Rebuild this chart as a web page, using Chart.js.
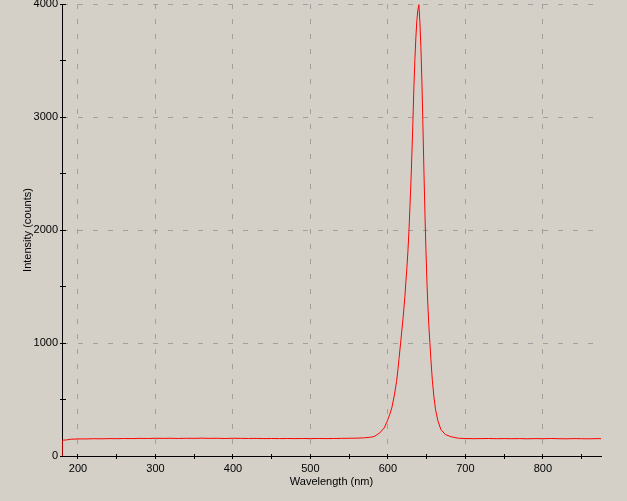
<!DOCTYPE html>
<html>
<head>
<meta charset="utf-8">
<script src="https://cdn.jsdelivr.net/npm/chart.js@4"></script>
<style>
  body { margin: 0; background: #d4d0c8; }
  canvas { display: block; }
</style>
</head>
<body>
<canvas id="spectrum" width="627" height="501"></canvas>
<script>
// wavelength (nm) and intensity (counts)
const wavelengths = [
  179.4, 179.6, 185, 190, 200, 210, 220, 230, 240, 250, 260, 270, 280, 290,
  300, 310, 320, 330, 340, 350, 360, 370, 380, 390, 400, 410, 420, 430, 440,
  450, 460, 470, 480, 490, 500, 510, 520, 530, 540, 550, 560, 570, 576,
  580.6, 583, 589.3, 595.2, 599.4, 602.2, 605, 608.4, 611.2, 612.9, 614.2,
  616.4, 618.1, 619.9, 621.9, 623.2, 624.5, 625.8, 627.1, 628.4,
  629.7, 631.0, 632.3, 633.5, 634.8, 636.1, 637.4, 638.7, 640.0, 641.3,
  642.6, 643.9, 645.2, 646.5, 647.8, 649.1, 650.4, 651.6, 652.8, 654.2,
  655.5, 657.3, 659.4, 661.5, 664.5, 668.3, 674, 681.8, 691, 700, 710, 720,
  730, 740, 750, 760, 770, 780, 790, 800, 810, 820, 830, 840, 850, 860, 870, 875
];
const counts = [
  0, 140, 142, 148, 151, 151, 153, 152, 154, 153, 155, 154, 156, 155,
  157, 156, 157, 155, 157, 156, 158, 156, 157, 155, 157, 156, 155, 156, 154,
  155, 154, 155, 154, 155, 154, 155, 154, 155, 156, 157, 158, 161, 165,
  170, 175, 204, 248, 312, 365, 425, 540, 660, 764, 852,
  1000, 1118, 1245, 1410, 1542, 1667, 1808, 1985, 2197,
  2427, 2680, 2967, 3259, 3508, 3706, 3861, 3950, 3994, 3835,
  3613, 3306, 2923, 2516, 2144, 1817, 1534, 1330, 1155, 1000,
  852, 675, 520, 410, 312, 235, 190, 170, 157, 155, 153, 154,
  155, 153, 154, 153, 154, 152, 154, 153, 155, 153, 152, 154, 153, 152, 154, 153
];
const points = wavelengths.map((w, i) => ({ x: w, y: counts[i] }));

Chart.defaults.font.family = "'Liberation Sans', Arial, sans-serif";
Chart.defaults.font.size = 11;
Chart.defaults.color = "#000";

const gridGray = "#a0a0a0";

// small ticks that cross the axis lines
const crossTicks = {
  id: "crossTicks",
  afterDraw(chart) {
    const { ctx, chartArea, scales } = chart;
    ctx.save();
    ctx.strokeStyle = "#000";
    ctx.lineWidth = 1;
    ctx.beginPath();
    scales.x.ticks.forEach((t) => {
      const px = Math.round(scales.x.getPixelForValue(t.value) - 0.5) + 0.5;
      ctx.moveTo(px, chartArea.bottom - 2);
      ctx.lineTo(px, chartArea.bottom + 3);
    });
    scales.y.ticks.forEach((t) => {
      const py = Math.round(scales.y.getPixelForValue(t.value) - 0.5) + 0.5;
      ctx.moveTo(chartArea.left - 2, py);
      ctx.lineTo(chartArea.left + 4, py);
    });
    ctx.stroke();
    ctx.restore();
  },
};

new Chart(document.getElementById("spectrum"), {
  type: "line",
  data: {
    datasets: [
      {
        data: points,
        borderColor: "#ff0000",
        borderWidth: 1,
        pointRadius: 0,
        tension: 0,
        fill: false,
      },
    ],
  },
  options: {
    responsive: false,
    animation: false,
    layout: { padding: { top: 4, right: 26, left: 0, bottom: 0 } },
    plugins: { legend: { display: false }, tooltip: { enabled: false } },
    scales: {
      x: {
        type: "linear",
        min: 179.4,
        max: 875,
        afterFit: (s) => { s.height = 45; s.paddingLeft = 0; s.paddingRight = 0; },
        ticks: {
          stepSize: 50,
          includeBounds: false,
          autoSkip: false,
          maxRotation: 0,
          padding: 6,
          callback: (v) => (v % 100 === 0 ? v : ""),
        },
        grid: {
          drawTicks: false,
          color: (c) => (c.tick && c.tick.value % 100 === 0 ? gridGray : "rgba(0,0,0,0)"),
        },
        border: { color: "#000", width: 1, dash: [5, 10] },
        title: {
          display: true,
          text: "Wavelength (nm)",
          padding: { top: 0, bottom: 12 },
        },
      },
      y: {
        min: 0,
        max: 4000,
        afterFit: (s) => { s.width = 62; s.paddingTop = 0; s.paddingBottom = 0; },
        ticks: {
          stepSize: 500,
          includeBounds: false,
          autoSkip: false,
          padding: 4,
          callback: (v) => (v % 1000 === 0 ? v : ""),
        },
        grid: {
          drawTicks: false,
          color: (c) => (c.tick && c.tick.value > 0 && c.tick.value % 1000 === 0 ? gridGray : "rgba(0,0,0,0)"),
        },
        border: { color: "#000", width: 1, dash: [5, 10] },
        title: {
          display: true,
          text: "Intensity (counts)",
          padding: { top: 21, bottom: 0 },
        },
      },
    },
  },
  plugins: [crossTicks],
});
</script>
</body>
</html>
